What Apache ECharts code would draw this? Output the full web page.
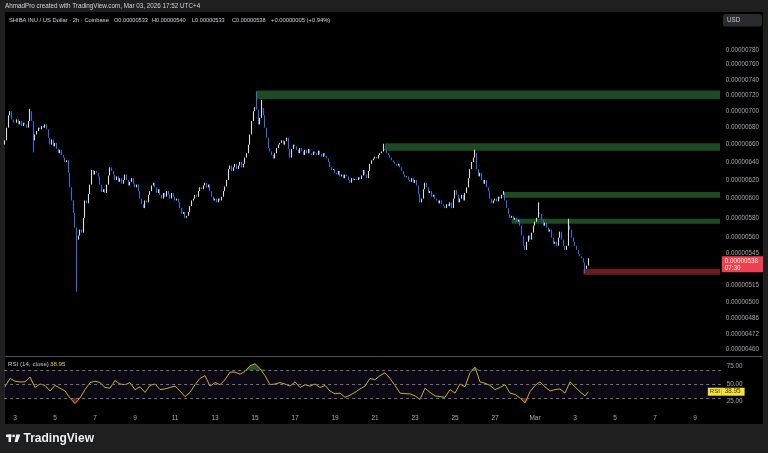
<!DOCTYPE html>
<html><head><meta charset="utf-8">
<script src="https://cdn.jsdelivr.net/npm/echarts@6/dist/echarts.min.js"></script>
<style>html,body{margin:0;padding:0;background:#1f1f1f;}#c{width:768px;height:453px;}</style>
</head><body><div id="c"></div>
<script>
// ---- DATA (prices in units of 1e-8 USD, 2h candles from 2026-02-02 12:00) ----
const closes = [
  665, 680, 695, 700, 690, 686,
  686, 690, 684, 688, 682, 686, 684, 680, 688, 700, 688, 665,
  672, 676, 680, 678, 682, 680, 684, 678, 668, 660, 666, 658,
  662, 655, 650, 654, 648, 645, 640, 642, 628, 612, 598, 585,
  570, 558, 562, 568, 565, 580, 598, 595, 605, 615, 631, 626,
  630, 628, 624, 615, 607, 610, 606, 615, 625, 634, 630, 626,
  620, 624, 618, 622, 616, 620, 626, 620, 614, 618, 622, 616,
  612, 615, 608, 600, 594, 590, 598, 596, 604, 608, 614, 617,
  612, 606, 610, 604, 600, 606, 602, 608, 604, 600, 606, 602,
  598, 600, 596, 590, 584, 586, 580, 582, 586, 592, 598, 600,
  604, 602, 608, 612, 610, 614, 617, 612, 615, 608, 602, 598,
  600, 596, 600, 598, 602, 608, 613, 620, 632, 636, 630, 634,
  638, 632, 636, 640, 634, 638, 645, 650, 660, 672, 688, 700,
  705, 702, 684, 692, 704, 695, 680, 668, 656, 652, 648, 644,
  650, 656, 660, 662, 665, 660, 664, 668, 655, 645, 655, 660,
  658, 654, 650, 656, 652, 648, 654, 650, 655, 650, 648, 652,
  650, 648, 653, 649, 646, 650, 647, 644, 640, 634, 631, 632,
  628, 626, 630, 624, 626, 622, 626, 624, 620, 617, 622, 620,
  621, 620, 623, 621, 625, 631, 626, 622, 630, 638, 642, 644,
  646, 644, 648, 650, 652, 655, 654, 650, 648, 645, 642, 640,
  638, 636, 638, 634, 630, 626, 623, 624, 620, 618, 622, 617,
  620, 614, 605, 596, 600, 610, 617, 612, 606, 608, 602, 604,
  600, 598, 595, 598, 594, 592, 590, 594, 592, 596, 590, 600,
  609, 604, 596, 600, 604, 598, 606, 612, 622, 632, 640, 645,
  650, 632, 624, 628, 620, 616, 620, 612, 608, 600, 595, 598,
  600, 597, 602, 600, 604, 606, 598, 590, 584, 580, 582, 578,
  580, 576, 578, 572, 562, 552, 548, 556, 562, 558, 565, 572,
  576, 580, 585, 584, 578, 572, 575, 570, 566, 568, 560, 554,
  556, 552, 560, 566, 558, 552, 548, 552, 572, 568, 560, 556,
  552, 548, 544, 542, 540, 536, 530, 533, 538
];
const firstOpen = 660;
// notable wicks: [candle index, low, high]
const wicks = [[15,null,703],[17,651,null],[43,509,null],[151,null,725],[154,null,714],[227,null,661],
  [282,null,654],[299,null,608],[320,null,596],[338,null,579],[348,526,null],[350,533,540]];
// RSI(14) read every 3 candles from index 0, plus the last value
const rsiSamples = [46,58,54,53,53,60,45,50,48,40,48,44,40,30,22,30,42,52,54,52,
  45,44,55,50,49,52,42,46,38,48,50,42,43,45,47,40,32,38,49,58,
  62,47,52,49,56,67,67,64,68,76,79,72,62,49,50,52,50,47,53,45,
  49,47,50,45,48,40,36,37,31,34,38,43,47,58,56,62,66,58,48,37,
  36,36,33,28,44,38,33,32,31,42,37,50,46,66,74,53,51,48,42,45,
  49,37,35,30,23,39,48,53,46,40,42,43,37,53,46,39,33];
const rsiLast = 38.95;
const priceTicks = [780,760,740,720,700,680,660,640,620,600,580,560,545,515,500,486,472,460];
const lastPrice = 538;
const tickDates = ['2026-02-03','2026-02-05','2026-02-07','2026-02-09','2026-02-11','2026-02-13','2026-02-15',
  '2026-02-17','2026-02-19','2026-02-21','2026-02-23','2026-02-25','2026-02-27','2026-03-01','2026-03-03',
  '2026-03-05','2026-03-07','2026-03-09'];
const tickLabels = ['3','5','7','9','11','13','15','17','19','21','23','25','27','Mar','3','5','7','9'];
const zoneStarts = ['2026-02-15 02:00','2026-02-21 12:00','2026-02-27 10:00','2026-02-27 20:00','2026-03-03 10:00'];
const zoneLows  = [715, 653, 601, 574, 524.5];
const zoneHighs = [726, 661.5, 607, 579, 530];
const zoneKinds = ['supply','supply','supply','supply','demand'];
const rsiScaleTicks = [75, 50, 25];
const rsiBands = [70, 50, 30];

// ---- BUILD ----
const SLOTS = 430;
const START = Date.UTC(2026,1,2,12);
const pad = n => (n<10?'0':'')+n;
function catName(t){const d=new Date(t);return d.getUTCFullYear()+'-'+pad(d.getUTCMonth()+1)+'-'+pad(d.getUTCDate())+' '+pad(d.getUTCHours())+':00';}
const cats = [];
for (let i=0;i<SLOTS;i++) cats.push(catName(START+i*2*3600000));
const labelMap = {};
tickDates.forEach((d,k)=>{labelMap[d+' 00:00']=tickLabels[k];});

const wickMap = {};
wicks.forEach(w=>{wickMap[w[0]]=w;});
const candles = closes.map((c,i)=>{
  const o = i===0?firstOpen:closes[i-1];
  let lo = Math.min(o,c), hi = Math.max(o,c);
  const w = wickMap[i];
  if (w){ if(w[1]!=null) lo=Math.min(lo,w[1]); if(w[2]!=null) hi=Math.max(hi,w[2]); }
  return [o,c,lo,hi];
});
const rsiData = rsiSamples.map((v,k)=>[k*3,v]);
rsiData.push([closes.length-1, rsiLast]);
const overData = rsiData.map(p=>[p[0],Math.max(p[1],70)]);
const underData = rsiData.map(p=>[p[0],Math.min(p[1],30)]);

const fmtP = v => (v/1e8).toFixed(8);
const FONT = 'Liberation Sans';
const zoneColor = {supply:'#1d4a22', demand:'#6a1a20'};
const lastCat = cats[SLOTS-1];
const HIDE = {color:'rgba(0,0,0,0)', width:0};

const GL = 4.167, GW = 716.67;
const chart = echarts.init(document.getElementById('c'), null, {renderer:'canvas'});
const txt = (x,y,s,color,size,extra) => ({type:'text',x:x,y:y,z:20,silent:true,style:Object.assign({text:s,fill:color,font:(size||6.2)+'px "'+FONT+'"',textVerticalAlign:'middle'},extra||{})});
chart.setOption({
  animation:false,
  backgroundColor:'#1f1f1f',
  textStyle:{fontFamily:FONT},
  grid:[
    {left:GL, top:12, width:GW, height:344},
    {left:GL, top:356, width:GW, height:49}
  ],
  xAxis:[
    {type:'category', gridIndex:0, data:cats, boundaryGap:true, axisLine:{show:false}, axisTick:{show:false}, axisLabel:{show:false}, splitLine:{show:false}},
    {type:'category', gridIndex:1, data:cats, boundaryGap:true, axisLine:{show:false}, axisTick:{show:false}, splitLine:{show:false},
     axisLabel:{interval:(i,v)=>labelMap[v]!==undefined, formatter:v=>labelMap[v]||'', color:'#a8abb3', fontSize:6.5, margin:10, fontFamily:FONT}}
  ],
  yAxis:[
    {type:'log', gridIndex:0, min:454.38, max:834.13, logBase:10, axisLine:{show:false}, axisTick:{show:false}, axisLabel:{show:false}, splitLine:{show:false}},
    {type:'value', gridIndex:1, min:20, max:90, axisLine:{show:false}, axisTick:{show:false}, axisLabel:{show:false}, splitLine:{show:false}}
  ],
  series:[
    {type:'candlestick', xAxisIndex:0, yAxisIndex:0, data:candles, barWidth:1, z:5, clip:false,
     itemStyle:{color:'#dcdcdc', color0:'#2f6fdc', borderColor:'#dcdcdc', borderColor0:'#2f6fdc', borderWidth:1.1},
     markArea:{silent:true, z:1, data: zoneStarts.map((s,k)=>[{xAxis:s, yAxis:zoneLows[k], itemStyle:{color:zoneColor[zoneKinds[k]]}},{xAxis:lastCat, yAxis:zoneHighs[k]}])},
     markLine:{silent:true, symbol:['none','none'], animation:false,
       data: priceTicks.map(v=>({yAxis:v, lineStyle:HIDE, label:{show:true, position:'end', distance:5, formatter:fmtP(v), color:'#a3a6ae', fontSize:6.3, fontFamily:FONT}}))
         .concat([{yAxis:lastPrice, lineStyle:HIDE, label:{show:true, position:'end', distance:1, offset:[0,4], formatter:fmtP(lastPrice)+'\n07:30', color:'#ffe3e5', backgroundColor:'#f0414f', padding:[1,5,1,3], lineHeight:7, fontSize:6.3, fontFamily:FONT}}])}
    },
    {type:'line', xAxisIndex:1, yAxisIndex:1, data:overData, symbol:'none', lineStyle:{width:0}, areaStyle:{origin:70, color:'rgba(56,142,60,0.6)', opacity:1}, z:3, silent:true},
    {type:'line', xAxisIndex:1, yAxisIndex:1, data:underData, symbol:'none', lineStyle:{width:0}, areaStyle:{origin:30, color:'rgba(200,40,40,0.6)', opacity:1}, z:3, silent:true},
    {type:'line', xAxisIndex:1, yAxisIndex:1, data:rsiData, symbol:'none', lineStyle:{width:1, color:'#c2ad36'}, z:4, silent:true, clip:false,
     markArea:{silent:true, data:[[{yAxis:30, itemStyle:{color:'rgba(126,87,194,0.10)'}},{yAxis:70}]]},
     markLine:{silent:true, symbol:['none','none'], animation:false,
       data: rsiBands.map(v=>({yAxis:v, lineStyle:{type:[3,3], color:'#6f727b', width:1}, label:{show:false}}))
        .concat(rsiScaleTicks.map(v=>({yAxis:v, lineStyle:HIDE, label:{show:true, position:'end', distance:6, formatter:v.toFixed(2), color:'#a3a6ae', fontSize:6.3, fontFamily:FONT}})))
        .concat([{yAxis:rsiLast, lineStyle:HIDE, label:{show:true, position:'end', distance:0, offset:[-13,0], formatter:'{a|RSI}{b|'+rsiLast.toFixed(2)+'}',
          rich:{a:{backgroundColor:'#f3e23c', color:'#3a3410', fontSize:6, padding:[1,2], fontFamily:FONT}, b:{backgroundColor:'#f3e23c', color:'#3a3410', fontSize:6.3, padding:[1,4,1,3], fontFamily:FONT}}}}])}
    }
  ],
  graphic:{elements:[
    {type:'rect', shape:{x:5,y:12,width:758,height:412}, style:{fill:'#000'}, z:-10, silent:true},
    {type:'line', shape:{x1:5,y1:356.5,x2:762,y2:356.5}, style:{stroke:'#4b4e57', lineWidth:1}, z:10, silent:true},
    {type:'rect', shape:{x:723,y:14,width:39,height:12.5,r:3}, style:{fill:'#2a2b2f'}, z:10, silent:true},
    txt(727,20.3,'USD','#c9ccd4',6.3),
    txt(5,6,'AhmadPro created with TradingView.com, Mar 03, 2026 17:52 UTC+4','#d1d4dc',6.3),
    txt(9,20,'SHIBA INU / US Dollar · 2h · Coinbase','#d1d4dc',5.8),
    txt(114,20,'O0.00000533','#d1d4dc',5.6),
    txt(152,20,'H0.00000540','#d1d4dc',5.6),
    txt(192,20,'L0.00000533','#d1d4dc',5.6),
    txt(232,20,'C0.00000538','#d1d4dc',5.6),
    txt(271,20,'+0.00000005 (+0.94%)','#d1d4dc',5.8),
    txt(8,364,'RSI (14, close)','#c7cad2',6.2),
    txt(50,364,rsiLast.toFixed(2),'#e3cf3a',6.2),
    {type:'rect', shape:{x:6,y:434.5,width:5.5,height:2.6}, style:{fill:'#eceff4'}, z:10},
    {type:'rect', shape:{x:8.5,y:434.5,width:2.6,height:7.5}, style:{fill:'#eceff4'}, z:10},
    {type:'circle', shape:{cx:13.6,cy:435.9,r:1.4}, style:{fill:'#eceff4'}, z:10},
    {type:'polygon', shape:{points:[[16.2,434.5],[20.3,434.5],[17.6,442],[14.6,442]]}, style:{fill:'#eceff4'}, z:10},
    txt(23.5,438.5,'TradingView','#eceff4',10.5,{fontWeight:'bold'})
  ]}
});
if (closes.length!==351) chart.setOption({title:{text:'LEN '+closes.length, left:300, top:200, textStyle:{color:'red'}}});
</script></body></html>
